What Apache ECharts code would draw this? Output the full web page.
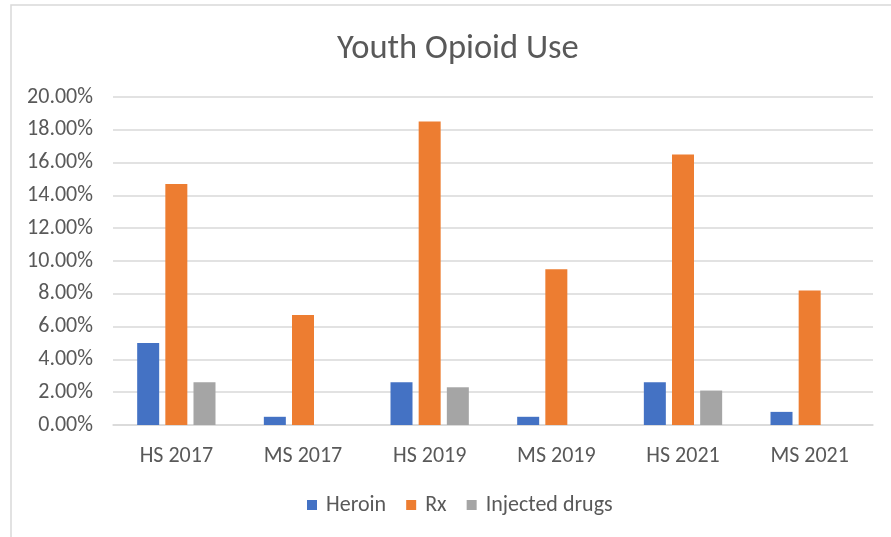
<!DOCTYPE html>
<html>
<head>
<meta charset="utf-8">
<script src="https://cdn.jsdelivr.net/npm/echarts@6/dist/echarts.min.js"></script>
<style>
  html, body { margin: 0; padding: 0; background: #fff; }
  #chart { width: 891px; height: 537px; }
</style>
</head>
<body>
<div id="chart"></div>
<script>
// Youth opioid use by school level and survey year (percent)
const categories = ['HS 2017', 'MS 2017', 'HS 2019', 'MS 2019', 'HS 2021', 'MS 2021'];
const heroin   = [5.0, 0.5, 2.6, 0.5, 2.6, 0.8];
const rx       = [14.7, 6.7, 18.5, 9.5, 16.5, 8.2];
const injected = [2.6, null, 2.3, null, 2.1, null];
const seriesNames = ['Heroin', 'Rx', 'Injected drugs'];
const seriesColors = ['#4472C4', '#ED7D31', '#A5A5A5'];

const font = 'Carlito, Lato, "Open Sans", sans-serif';
const textColor = '#595959';

const chart = echarts.init(document.getElementById('chart'));
const values = [heroin, rx, injected];

chart.setOption({
  animation: false,
  color: seriesColors,
  graphic: [{
    type: 'rect',
    shape: { x: 11, y: 5, width: 900, height: 560 },
    style: { fill: 'none', stroke: '#D9D9D9', lineWidth: 1.5 },
    silent: true
  }],
  title: {
    text: 'Youth Opioid Use',
    left: 332,
    top: 27,
    textStyle: { fontFamily: font, fontSize: 34.5, fontWeight: 'normal', color: textColor }
  },
  legend: {
    top: 489,
    left: 302,
    itemWidth: 10,
    itemHeight: 10,
    itemGap: 20,
    icon: 'rect',
    textStyle: { fontFamily: font, fontSize: 22, color: textColor, padding: [0, 0, 0, 4] },
    data: seriesNames
  },
  grid: { left: 113, right: 18, top: 97, bottom: 112 },
  xAxis: {
    type: 'category',
    data: categories,
    axisLine: { lineStyle: { color: '#D9D9D9', width: 1.5 } },
    axisTick: { show: false },
    axisLabel: { fontFamily: font, fontSize: 22, color: textColor, margin: 20 }
  },
  yAxis: {
    type: 'value',
    min: 0,
    max: 20,
    interval: 2,
    axisLine: { show: false },
    axisTick: { show: false },
    splitLine: { lineStyle: { color: '#D9D9D9', width: 1.5 } },
    axisLabel: {
      fontFamily: font, fontSize: 22, color: textColor, margin: 20,
      formatter: v => v.toFixed(2) + '%'
    }
  },
  series: seriesNames.map((name, i) => ({
    name,
    type: 'bar',
    data: values[i],
    barWidth: 22,
    barGap: '28%',
    itemStyle: { color: seriesColors[i] }
  }))
});
</script>
</body>
</html>
